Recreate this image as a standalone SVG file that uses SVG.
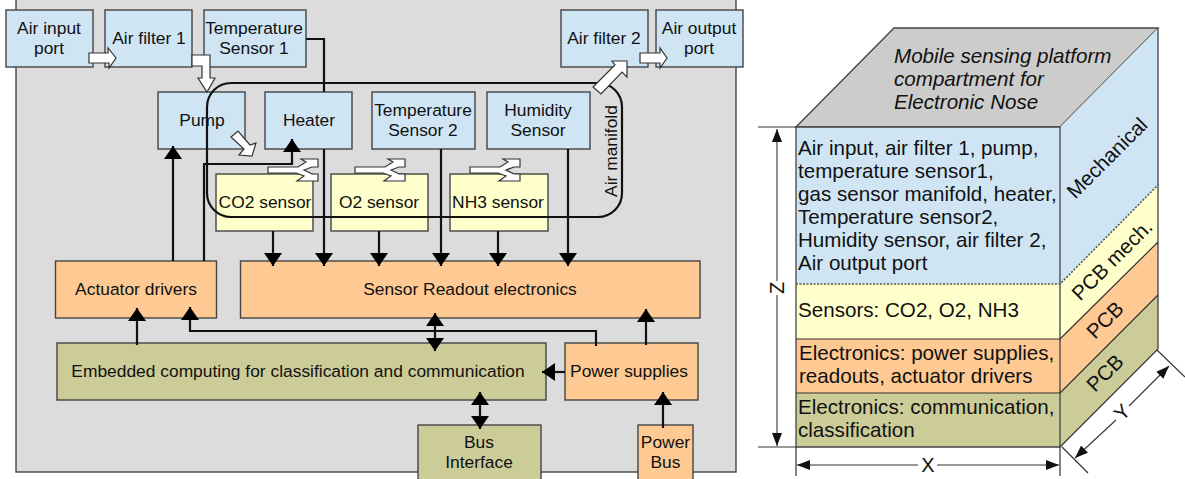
<svg xmlns="http://www.w3.org/2000/svg" width="1185" height="479" viewBox="0 0 1185 479">
<style>
text{font-family:"Liberation Sans",Arial,sans-serif;font-size:17.400px;fill:#111;text-anchor:middle}
.b{stroke:#444;stroke-width:1.4}
.blue{fill:#cfe5f4}.yel{fill:#ffffcc}.or{fill:#ffc993}.ol{fill:#cccc99}
.w{fill:none;stroke:#111;stroke-width:2.2}
.fa{fill:#fff;stroke:#333;stroke-width:1.2}
.l{text-anchor:start;font-size:20.600px}
.r{font-size:20.600px}
.d{fill:none;stroke:#333;stroke-width:1.1}
.c{stroke:#333;stroke-width:1.2}
.dim{font-size:20px}
</style>
<defs>
<marker id="ah" markerUnits="userSpaceOnUse" markerWidth="14" markerHeight="18" refX="13" refY="9" orient="auto-start-reverse"><path d="M0,0L13,9L0,18Z" fill="#000"/></marker>
<marker id="dh" markerUnits="userSpaceOnUse" markerWidth="14" markerHeight="10" refX="13" refY="5" orient="auto-start-reverse"><path d="M0,0L13,5L0,10Z" fill="#111"/></marker>
<path id="fork" class="fa" d="M0,-3H30L38,-8L33,-11H50V-3H44L36,0L44,4H50V11H29L36,6L28,3H0Z"/>
</defs>
<rect x="16" y="-5" width="720" height="477" fill="#dcdcdc" stroke="#444" stroke-width="1.4"/>

<g id="air-input-port"><rect class="b blue" x="6" y="10" width="87" height="57"/><text x="49" y="34">Air input</text><text x="49" y="54">port</text></g>
<g id="air-filter-1"><rect class="b blue" x="105" y="10" width="87" height="57"/><text x="149" y="44">Air filter 1</text></g>
<g id="temperature-sensor-1"><rect class="b blue" x="204" y="10" width="102" height="57"/><text x="254" y="34">Temperature</text><text x="254" y="54">Sensor 1</text></g>
<g id="pump"><rect class="b blue" x="158" y="92" width="87" height="57"/><text x="202" y="126">Pump</text></g>
<g id="heater"><rect class="b blue" x="265" y="92" width="87" height="57"/><text x="309" y="126">Heater</text></g>
<g id="temperature-sensor-2"><rect class="b blue" x="372" y="92" width="103" height="57"/><text x="423" y="116">Temperature</text><text x="423" y="136">Sensor 2</text></g>
<g id="humidity-sensor"><rect class="b blue" x="487" y="92" width="103" height="57"/><text x="538" y="116">Humidity</text><text x="538" y="136">Sensor</text></g>
<g id="air-filter-2"><rect class="b blue" x="561" y="10" width="87" height="57"/><text x="604" y="44">Air filter 2</text></g>
<g id="air-output-port"><rect class="b blue" x="656" y="10" width="87" height="57"/><text x="699" y="34">Air output</text><text x="699" y="54">port</text></g>
<g id="co2-sensor"><rect class="b yel" x="216" y="174" width="97" height="57"/><text x="265" y="208">CO2 sensor</text></g>
<g id="o2-sensor"><rect class="b yel" x="331" y="174" width="97" height="57"/><text x="379" y="208">O2 sensor</text></g>
<g id="nh3-sensor"><rect class="b yel" x="450" y="174" width="98" height="57"/><text x="498" y="208">NH3 sensor</text></g>
<g id="actuator-drivers"><rect class="b or" x="55.500" y="261" width="161" height="57"/><text x="136" y="295">Actuator drivers</text></g>
<g id="sensor-readout-electronics"><rect class="b or" x="240.500" y="261" width="459.500" height="57"/><text x="470" y="295">Sensor Readout electronics</text></g>
<g id="embedded-computing"><rect class="b ol" x="57" y="343" width="489" height="57"/><text x="298" y="377">Embedded computing for classification and communication</text></g>
<g id="power-supplies"><rect class="b or" x="565" y="343" width="133" height="57"/><text x="629" y="377">Power supplies</text></g>
<g id="bus-interface"><rect class="b ol" x="418" y="425" width="123" height="60"/><text x="479" y="448">Bus</text><text x="479" y="468">Interface</text></g>
<g id="power-bus"><rect class="b or" x="638" y="425" width="55" height="60"/><text x="665.500" y="448">Power</text><text x="665.500" y="468">Bus</text></g>

<g id="connectors">
<rect class="w" x="207" y="83" width="415" height="134" rx="24"/>
<path class="w" d="M306,39H324V92M324,149V266" marker-end="url(#ah)"/>
<path class="w" d="M173,261V146" marker-end="url(#ah)"/>
<path class="w" d="M204,261V164H292V139" marker-end="url(#ah)"/>
<path class="w" d="M273,231V266" marker-end="url(#ah)"/>
<path class="w" d="M379,231V266" marker-end="url(#ah)"/>
<path class="w" d="M441,149V266" marker-end="url(#ah)"/>
<path class="w" d="M498,231V266" marker-end="url(#ah)"/>
<path class="w" d="M568,149V266" marker-end="url(#ah)"/>
<path class="w" d="M137,345V308" marker-end="url(#ah)"/>
<path class="w" d="M596,346V331H190V307" marker-end="url(#ah)"/>
<path class="w" d="M435,313V351" marker-start="url(#ah)" marker-end="url(#ah)"/>
<path class="w" d="M646,345V309" marker-end="url(#ah)"/>
<path class="w" d="M565,372H542" marker-end="url(#ah)"/>
<path class="w" d="M480,392V429" marker-start="url(#ah)" marker-end="url(#ah)"/>
<path class="w" d="M663,428V392" marker-end="url(#ah)"/>
<path class="fa" d="M89,53H108V48L116,58L109,68V63H89Z"/>
<path class="fa" d="M192,55H210V78H215L207,92L198,78H202V66H192Z"/>
<path class="fa" d="M231,137L238,131L250,145L256,143L252,156L239,155L244,149Z"/>
<path class="fa" d="M593,87L615,65L612,61H627V77L622,72L601,94Z"/>
<path class="fa" d="M640,53H660V48L667,58L660,68V63H640Z"/>
<use href="#fork" x="268" y="170"/>
<use href="#fork" x="355" y="170"/>
<use href="#fork" x="470" y="170"/>
</g>
<text x="617" y="151" transform="rotate(-90 617 151)">Air manifold</text>

<g id="cube">
<path d="M796,127L894,28H1158L1060,127Z" fill="#cccccc" stroke="#444" stroke-width="1.3"/>
<rect x="796" y="127" width="264" height="157" class="blue"/>
<rect x="796" y="284" width="264" height="55" class="yel"/>
<rect x="796" y="339" width="264" height="54" class="or"/>
<rect x="796" y="393" width="264" height="54" class="ol"/>
<path d="M1060,127L1158,28V185L1060,284Z" class="blue"/>
<path d="M1060,284L1158,185V242L1060,339Z" class="yel"/>
<path d="M1060,339L1158,242V295L1060,393Z" class="or"/>
<path d="M1060,393L1158,295V349L1060,447Z" class="ol"/>
<path d="M796,127H1060V447H796Z" fill="none" stroke="#444" stroke-width="1.3"/>
<path d="M1158,28V349L1060,447M1060,339L1158,242M1060,393L1158,295M796,339H1060M796,393H1060" fill="none" stroke="#333" stroke-width="1.2"/>
<path d="M796,284H1060L1158,185" fill="none" stroke="#555" stroke-width="1.6" stroke-dasharray="2 1.500"/>
<text class="l" x="894" y="63" font-style="italic">Mobile sensing platform</text><text class="l" x="894" y="86" font-style="italic">compartment for</text><text class="l" x="894" y="109" font-style="italic">Electronic Nose</text>
<text class="l" x="798" y="155">Air input, air filter 1, pump,</text>
<text class="l" x="798" y="178">temperature sensor1,</text>
<text class="l" x="798" y="201">gas sensor manifold, heater,</text>
<text class="l" x="798" y="224">Temperature sensor2,</text>
<text class="l" x="798" y="247">Humidity sensor, air filter 2,</text>
<text class="l" x="798" y="270">Air output port</text>
<text class="l" x="798" y="317">Sensors: CO2, O2, NH3</text>
<text class="l" x="799" y="360">Electronics: power supplies,</text>
<text class="l" x="799" y="383">readouts, actuator drivers</text>
<text class="l" x="798" y="414">Electronics: communication,</text>
<text class="l" x="798" y="437">classification</text>
<text class="r" x="1112" y="163" transform="rotate(-45 1112 163)">Mechanical</text>
<text class="r" x="1117" y="265" transform="rotate(-45 1117 265)">PCB mech.</text>
<text class="r" x="1110" y="325" transform="rotate(-45 1110 325)">PCB</text>
<text class="r" x="1110" y="378" transform="rotate(-45 1110 378)">PCB</text>
</g>
<g id="dimensions">
<path class="c" d="M758,127H796M758,447H796M796,447V476M1060,447V476M1062,447L1088,473M1157,350L1185,377"/>
<path class="d" d="M777,129V281M777,295V446" marker-start="url(#dh)" marker-end="url(#dh)"/>
<path class="d" d="M797,465H918M937,465H1059" marker-start="url(#dh)" marker-end="url(#dh)"/>
<path class="d" d="M1075,458L1116,420" marker-start="url(#dh)"/>
<path class="d" d="M1129,406L1169,366" marker-end="url(#dh)"/>
<text class="dim" x="784" y="288" transform="rotate(-90 784 288)">Z</text>
<text class="dim" x="928" y="472">X</text>
<text class="dim" x="1127" y="417" transform="rotate(-45 1127 417)">Y</text>
</g>
</svg>
